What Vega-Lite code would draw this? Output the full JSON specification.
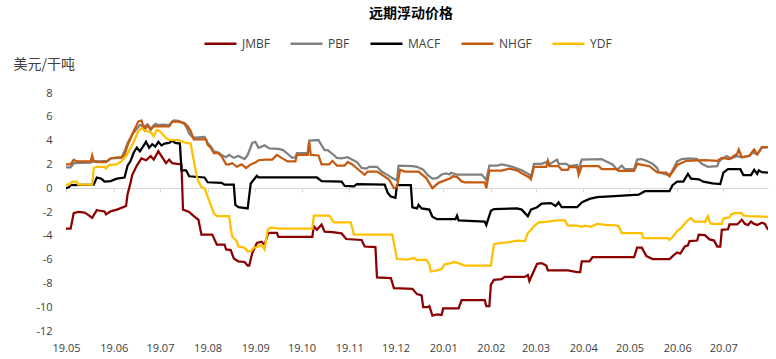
{
"$schema":"https://vega.github.io/schema/vega-lite/v6.json",
"width":702,"height":238,
"autosize":{"type":"none"},
"padding":{"left":66,"top":93,"right":8,"bottom":28},
"background":"white",
"title":{"text":"远期浮动价格","font":"Noto Sans CJK SC","fontSize":14,"fontWeight":"bold","color":"#000000","anchor":"middle","frame":"group","offset":0,"dy":-5,"dx":-6},
"config":{"view":{"stroke":null}},
"data":{"values":[
{"date":"2019-05-01","series":"JMBF","value":-3.4},{"date":"2019-05-04","series":"JMBF","value":-3.4},{"date":"2019-05-06","series":"JMBF","value":-2.1},{"date":"2019-05-09","series":"JMBF","value":-2.0},{"date":"2019-05-13","series":"JMBF","value":-2.05},{"date":"2019-05-15","series":"JMBF","value":-2.2},{"date":"2019-05-18","series":"JMBF","value":-2.5},{"date":"2019-05-21","series":"JMBF","value":-1.85},{"date":"2019-05-26","series":"JMBF","value":-1.95},{"date":"2019-05-27","series":"JMBF","value":-2.2},{"date":"2019-05-30","series":"JMBF","value":-1.95},{"date":"2019-06-03","series":"JMBF","value":-1.8},{"date":"2019-06-06","series":"JMBF","value":-1.65},{"date":"2019-06-09","series":"JMBF","value":-1.5},{"date":"2019-06-10","series":"JMBF","value":-0.5},{"date":"2019-06-12","series":"JMBF","value":0.5},{"date":"2019-06-13","series":"JMBF","value":1.1},{"date":"2019-06-16","series":"JMBF","value":1.9},{"date":"2019-06-19","series":"JMBF","value":2.5},{"date":"2019-06-22","series":"JMBF","value":2.35},{"date":"2019-06-25","series":"JMBF","value":2.7},{"date":"2019-06-27","series":"JMBF","value":2.4},{"date":"2019-06-30","series":"JMBF","value":3.1},{"date":"2019-07-02","series":"JMBF","value":2.7},{"date":"2019-07-05","series":"JMBF","value":2.1},{"date":"2019-07-07","series":"JMBF","value":2.4},{"date":"2019-07-09","series":"JMBF","value":2.1},{"date":"2019-07-15","series":"JMBF","value":2.0},{"date":"2019-07-16","series":"JMBF","value":-1.8},{"date":"2019-07-20","series":"JMBF","value":-2.0},{"date":"2019-07-23","series":"JMBF","value":-2.35},{"date":"2019-07-26","series":"JMBF","value":-2.65},{"date":"2019-07-28","series":"JMBF","value":-3.9},{"date":"2019-08-04","series":"JMBF","value":-3.9},{"date":"2019-08-07","series":"JMBF","value":-4.75},{"date":"2019-08-12","series":"JMBF","value":-4.75},{"date":"2019-08-13","series":"JMBF","value":-5.15},{"date":"2019-08-16","series":"JMBF","value":-5.2},{"date":"2019-08-18","series":"JMBF","value":-5.9},{"date":"2019-08-21","series":"JMBF","value":-6.15},{"date":"2019-08-25","series":"JMBF","value":-6.2},{"date":"2019-08-27","series":"JMBF","value":-6.5},{"date":"2019-08-28","series":"JMBF","value":-6.5},{"date":"2019-08-30","series":"JMBF","value":-5.45},{"date":"2019-09-02","series":"JMBF","value":-4.6},{"date":"2019-09-05","series":"JMBF","value":-4.5},{"date":"2019-09-07","series":"JMBF","value":-4.75},{"date":"2019-09-09","series":"JMBF","value":-3.9},{"date":"2019-09-10","series":"JMBF","value":-3.75},{"date":"2019-09-15","series":"JMBF","value":-3.75},{"date":"2019-09-16","series":"JMBF","value":-4.1},{"date":"2019-10-08","series":"JMBF","value":-4.1},{"date":"2019-10-09","series":"JMBF","value":-3.2},{"date":"2019-10-11","series":"JMBF","value":-3.5},{"date":"2019-10-14","series":"JMBF","value":-3.05},{"date":"2019-10-16","series":"JMBF","value":-3.65},{"date":"2019-10-21","series":"JMBF","value":-3.7},{"date":"2019-10-27","series":"JMBF","value":-3.8},{"date":"2019-10-30","series":"JMBF","value":-4.27},{"date":"2019-11-09","series":"JMBF","value":-4.35},{"date":"2019-11-11","series":"JMBF","value":-4.9},{"date":"2019-11-18","series":"JMBF","value":-4.95},{"date":"2019-11-19","series":"JMBF","value":-7.5},{"date":"2019-11-28","series":"JMBF","value":-7.55},{"date":"2019-11-30","series":"JMBF","value":-8.4},{"date":"2019-12-12","series":"JMBF","value":-8.45},{"date":"2019-12-15","series":"JMBF","value":-8.9},{"date":"2019-12-18","series":"JMBF","value":-9.0},{"date":"2019-12-19","series":"JMBF","value":-10.0},{"date":"2019-12-22","series":"JMBF","value":-10.0},{"date":"2019-12-23","series":"JMBF","value":-9.9},{"date":"2019-12-25","series":"JMBF","value":-10.7},{"date":"2019-12-28","series":"JMBF","value":-10.6},{"date":"2019-12-31","series":"JMBF","value":-10.65},{"date":"2020-01-01","series":"JMBF","value":-10.1},{"date":"2020-01-11","series":"JMBF","value":-10.1},{"date":"2020-01-13","series":"JMBF","value":-9.4},{"date":"2020-01-28","series":"JMBF","value":-9.4},{"date":"2020-01-29","series":"JMBF","value":-9.9},{"date":"2020-01-31","series":"JMBF","value":-9.9},{"date":"2020-02-01","series":"JMBF","value":-8.1},{"date":"2020-02-03","series":"JMBF","value":-7.7},{"date":"2020-02-08","series":"JMBF","value":-7.65},{"date":"2020-02-10","series":"JMBF","value":-7.45},{"date":"2020-02-23","series":"JMBF","value":-7.45},{"date":"2020-02-25","series":"JMBF","value":-7.3},{"date":"2020-02-26","series":"JMBF","value":-7.8},{"date":"2020-03-02","series":"JMBF","value":-6.35},{"date":"2020-03-05","series":"JMBF","value":-6.3},{"date":"2020-03-08","series":"JMBF","value":-6.5},{"date":"2020-03-09","series":"JMBF","value":-6.9},{"date":"2020-03-22","series":"JMBF","value":-6.9},{"date":"2020-03-28","series":"JMBF","value":-7.05},{"date":"2020-03-30","series":"JMBF","value":-7.05},{"date":"2020-03-31","series":"JMBF","value":-6.15},{"date":"2020-04-05","series":"JMBF","value":-6.15},{"date":"2020-04-07","series":"JMBF","value":-5.8},{"date":"2020-05-04","series":"JMBF","value":-5.8},{"date":"2020-05-06","series":"JMBF","value":-5.0},{"date":"2020-05-09","series":"JMBF","value":-5.0},{"date":"2020-05-12","series":"JMBF","value":-5.7},{"date":"2020-05-16","series":"JMBF","value":-5.95},{"date":"2020-05-27","series":"JMBF","value":-5.95},{"date":"2020-05-30","series":"JMBF","value":-5.6},{"date":"2020-06-01","series":"JMBF","value":-5.4},{"date":"2020-06-03","series":"JMBF","value":-5.5},{"date":"2020-06-06","series":"JMBF","value":-4.9},{"date":"2020-06-08","series":"JMBF","value":-4.8},{"date":"2020-06-09","series":"JMBF","value":-4.45},{"date":"2020-06-14","series":"JMBF","value":-4.4},{"date":"2020-06-15","series":"JMBF","value":-3.9},{"date":"2020-06-19","series":"JMBF","value":-3.95},{"date":"2020-06-22","series":"JMBF","value":-4.3},{"date":"2020-06-25","series":"JMBF","value":-4.4},{"date":"2020-06-27","series":"JMBF","value":-4.9},{"date":"2020-06-29","series":"JMBF","value":-4.9},{"date":"2020-06-30","series":"JMBF","value":-3.5},{"date":"2020-07-04","series":"JMBF","value":-3.45},{"date":"2020-07-05","series":"JMBF","value":-3.05},{"date":"2020-07-10","series":"JMBF","value":-3.05},{"date":"2020-07-13","series":"JMBF","value":-2.65},{"date":"2020-07-15","series":"JMBF","value":-3.0},{"date":"2020-07-17","series":"JMBF","value":-3.1},{"date":"2020-07-19","series":"JMBF","value":-2.8},{"date":"2020-07-21","series":"JMBF","value":-3.0},{"date":"2020-07-23","series":"JMBF","value":-3.1},{"date":"2020-07-26","series":"JMBF","value":-2.9},{"date":"2020-07-28","series":"JMBF","value":-3.0},{"date":"2020-07-30","series":"JMBF","value":-3.5},
{"date":"2019-05-01","series":"PBF","value":1.75},{"date":"2019-05-04","series":"PBF","value":1.75},{"date":"2019-05-06","series":"PBF","value":2.1},{"date":"2019-05-17","series":"PBF","value":2.15},{"date":"2019-05-19","series":"PBF","value":2.3},{"date":"2019-05-22","series":"PBF","value":2.25},{"date":"2019-05-28","series":"PBF","value":2.3},{"date":"2019-05-30","series":"PBF","value":2.5},{"date":"2019-06-06","series":"PBF","value":2.55},{"date":"2019-06-08","series":"PBF","value":3.1},{"date":"2019-06-10","series":"PBF","value":3.8},{"date":"2019-06-13","series":"PBF","value":4.5},{"date":"2019-06-16","series":"PBF","value":5.0},{"date":"2019-06-18","series":"PBF","value":5.3},{"date":"2019-06-21","series":"PBF","value":5.2},{"date":"2019-06-23","series":"PBF","value":5.35},{"date":"2019-06-25","series":"PBF","value":5.0},{"date":"2019-06-28","series":"PBF","value":5.4},{"date":"2019-06-30","series":"PBF","value":5.3},{"date":"2019-07-03","series":"PBF","value":5.35},{"date":"2019-07-07","series":"PBF","value":5.3},{"date":"2019-07-10","series":"PBF","value":5.7},{"date":"2019-07-13","series":"PBF","value":5.65},{"date":"2019-07-16","series":"PBF","value":5.5},{"date":"2019-07-18","series":"PBF","value":5.2},{"date":"2019-07-20","series":"PBF","value":4.6},{"date":"2019-07-22","series":"PBF","value":4.3},{"date":"2019-07-24","series":"PBF","value":4.25},{"date":"2019-07-30","series":"PBF","value":4.3},{"date":"2019-08-01","series":"PBF","value":3.8},{"date":"2019-08-03","series":"PBF","value":3.5},{"date":"2019-08-05","series":"PBF","value":3.1},{"date":"2019-08-08","series":"PBF","value":3.0},{"date":"2019-08-10","series":"PBF","value":2.8},{"date":"2019-08-13","series":"PBF","value":2.6},{"date":"2019-08-15","series":"PBF","value":2.8},{"date":"2019-08-18","series":"PBF","value":2.55},{"date":"2019-08-21","series":"PBF","value":2.7},{"date":"2019-08-25","series":"PBF","value":2.45},{"date":"2019-08-27","series":"PBF","value":2.8},{"date":"2019-08-30","series":"PBF","value":3.8},{"date":"2019-09-01","series":"PBF","value":3.9},{"date":"2019-09-03","series":"PBF","value":3.4},{"date":"2019-09-07","series":"PBF","value":3.6},{"date":"2019-09-10","series":"PBF","value":3.35},{"date":"2019-09-16","series":"PBF","value":3.3},{"date":"2019-09-19","series":"PBF","value":3.2},{"date":"2019-09-21","series":"PBF","value":3.0},{"date":"2019-09-25","series":"PBF","value":2.55},{"date":"2019-09-27","series":"PBF","value":2.6},{"date":"2019-09-28","series":"PBF","value":2.95},{"date":"2019-10-05","series":"PBF","value":2.95},{"date":"2019-10-06","series":"PBF","value":4.0},{"date":"2019-10-12","series":"PBF","value":4.05},{"date":"2019-10-14","series":"PBF","value":3.6},{"date":"2019-10-16","series":"PBF","value":3.2},{"date":"2019-10-18","series":"PBF","value":3.2},{"date":"2019-10-20","series":"PBF","value":3.0},{"date":"2019-10-24","series":"PBF","value":2.55},{"date":"2019-10-27","series":"PBF","value":2.5},{"date":"2019-10-31","series":"PBF","value":2.6},{"date":"2019-11-03","series":"PBF","value":2.4},{"date":"2019-11-06","series":"PBF","value":2.2},{"date":"2019-11-09","series":"PBF","value":1.7},{"date":"2019-11-12","series":"PBF","value":1.65},{"date":"2019-11-14","series":"PBF","value":1.8},{"date":"2019-11-19","series":"PBF","value":1.8},{"date":"2019-11-22","series":"PBF","value":1.4},{"date":"2019-11-26","series":"PBF","value":1.1},{"date":"2019-11-29","series":"PBF","value":0.85},{"date":"2019-12-02","series":"PBF","value":0.65},{"date":"2019-12-03","series":"PBF","value":1.9},{"date":"2019-12-12","series":"PBF","value":1.85},{"date":"2019-12-15","series":"PBF","value":1.8},{"date":"2019-12-19","series":"PBF","value":1.55},{"date":"2019-12-22","series":"PBF","value":1.1},{"date":"2019-12-25","series":"PBF","value":0.8},{"date":"2019-12-28","series":"PBF","value":0.85},{"date":"2019-12-31","series":"PBF","value":1.15},{"date":"2020-01-03","series":"PBF","value":1.25},{"date":"2020-01-05","series":"PBF","value":1.15},{"date":"2020-01-06","series":"PBF","value":1.3},{"date":"2020-01-10","series":"PBF","value":1.15},{"date":"2020-01-26","series":"PBF","value":1.15},{"date":"2020-01-29","series":"PBF","value":0.7},{"date":"2020-01-31","series":"PBF","value":1.9},{"date":"2020-02-05","series":"PBF","value":1.9},{"date":"2020-02-08","series":"PBF","value":2.0},{"date":"2020-02-12","series":"PBF","value":1.9},{"date":"2020-02-16","series":"PBF","value":1.75},{"date":"2020-02-21","series":"PBF","value":1.5},{"date":"2020-02-26","series":"PBF","value":1.15},{"date":"2020-02-27","series":"PBF","value":0.9},{"date":"2020-02-29","series":"PBF","value":2.05},{"date":"2020-03-05","series":"PBF","value":2.05},{"date":"2020-03-09","series":"PBF","value":2.25},{"date":"2020-03-10","series":"PBF","value":2.0},{"date":"2020-03-13","series":"PBF","value":2.25},{"date":"2020-03-15","series":"PBF","value":2.4},{"date":"2020-03-16","series":"PBF","value":2.05},{"date":"2020-03-21","series":"PBF","value":2.05},{"date":"2020-03-23","series":"PBF","value":1.85},{"date":"2020-03-28","series":"PBF","value":1.95},{"date":"2020-03-29","series":"PBF","value":1.55},{"date":"2020-03-31","series":"PBF","value":2.4},{"date":"2020-04-13","series":"PBF","value":2.45},{"date":"2020-04-15","series":"PBF","value":2.3},{"date":"2020-04-20","series":"PBF","value":2.0},{"date":"2020-04-23","series":"PBF","value":1.55},{"date":"2020-04-26","series":"PBF","value":1.9},{"date":"2020-04-28","series":"PBF","value":1.6},{"date":"2020-05-04","series":"PBF","value":1.6},{"date":"2020-05-06","series":"PBF","value":2.4},{"date":"2020-05-09","series":"PBF","value":2.45},{"date":"2020-05-12","series":"PBF","value":2.3},{"date":"2020-05-16","series":"PBF","value":2.05},{"date":"2020-05-19","series":"PBF","value":1.7},{"date":"2020-05-20","series":"PBF","value":1.35},{"date":"2020-05-26","series":"PBF","value":1.1},{"date":"2020-05-28","series":"PBF","value":1.25},{"date":"2020-06-01","series":"PBF","value":2.25},{"date":"2020-06-04","series":"PBF","value":2.45},{"date":"2020-06-09","series":"PBF","value":2.5},{"date":"2020-06-14","series":"PBF","value":2.45},{"date":"2020-06-17","series":"PBF","value":2.05},{"date":"2020-06-21","series":"PBF","value":1.8},{"date":"2020-06-27","series":"PBF","value":1.85},{"date":"2020-06-28","series":"PBF","value":2.2},{"date":"2020-06-30","series":"PBF","value":2.45},{"date":"2020-07-03","series":"PBF","value":2.7},{"date":"2020-07-06","series":"PBF","value":2.5},{"date":"2020-07-10","series":"PBF","value":2.7},{"date":"2020-07-13","series":"PBF","value":2.6},{"date":"2020-07-18","series":"PBF","value":2.7},{"date":"2020-07-20","series":"PBF","value":3.0},{"date":"2020-07-23","series":"PBF","value":2.85},{"date":"2020-07-26","series":"PBF","value":3.4},{"date":"2020-07-30","series":"PBF","value":3.45},
{"date":"2019-05-01","series":"MACF","value":0.0},{"date":"2019-05-03","series":"MACF","value":0.1},{"date":"2019-05-04","series":"MACF","value":0.25},{"date":"2019-05-19","series":"MACF","value":0.3},{"date":"2019-05-21","series":"MACF","value":0.9},{"date":"2019-05-24","series":"MACF","value":0.8},{"date":"2019-05-26","series":"MACF","value":0.55},{"date":"2019-05-30","series":"MACF","value":0.6},{"date":"2019-06-03","series":"MACF","value":0.8},{"date":"2019-06-08","series":"MACF","value":0.9},{"date":"2019-06-10","series":"MACF","value":1.9},{"date":"2019-06-12","series":"MACF","value":2.3},{"date":"2019-06-14","series":"MACF","value":3.0},{"date":"2019-06-16","series":"MACF","value":3.4},{"date":"2019-06-18","series":"MACF","value":3.1},{"date":"2019-06-20","series":"MACF","value":3.5},{"date":"2019-06-22","series":"MACF","value":3.9},{"date":"2019-06-24","series":"MACF","value":3.4},{"date":"2019-06-26","series":"MACF","value":3.7},{"date":"2019-06-28","series":"MACF","value":3.5},{"date":"2019-06-30","series":"MACF","value":3.9},{"date":"2019-07-02","series":"MACF","value":3.6},{"date":"2019-07-04","series":"MACF","value":3.75},{"date":"2019-07-07","series":"MACF","value":3.8},{"date":"2019-07-09","series":"MACF","value":4.0},{"date":"2019-07-11","series":"MACF","value":3.8},{"date":"2019-07-14","series":"MACF","value":3.75},{"date":"2019-07-15","series":"MACF","value":1.5},{"date":"2019-07-18","series":"MACF","value":1.5},{"date":"2019-07-20","series":"MACF","value":1.0},{"date":"2019-07-30","series":"MACF","value":0.9},{"date":"2019-08-01","series":"MACF","value":0.5},{"date":"2019-08-10","series":"MACF","value":0.45},{"date":"2019-08-12","series":"MACF","value":0.3},{"date":"2019-08-18","series":"MACF","value":0.3},{"date":"2019-08-19","series":"MACF","value":-1.4},{"date":"2019-08-21","series":"MACF","value":-1.6},{"date":"2019-08-27","series":"MACF","value":-1.7},{"date":"2019-08-29","series":"MACF","value":0.4},{"date":"2019-09-02","series":"MACF","value":1.05},{"date":"2019-09-03","series":"MACF","value":0.9},{"date":"2019-09-29","series":"MACF","value":0.9},{"date":"2019-10-11","series":"MACF","value":0.9},{"date":"2019-10-14","series":"MACF","value":0.6},{"date":"2019-10-27","series":"MACF","value":0.55},{"date":"2019-10-29","series":"MACF","value":0.2},{"date":"2019-11-04","series":"MACF","value":0.15},{"date":"2019-11-06","series":"MACF","value":0.35},{"date":"2019-11-24","series":"MACF","value":0.3},{"date":"2019-11-26","series":"MACF","value":-0.4},{"date":"2019-11-28","series":"MACF","value":-0.7},{"date":"2019-12-01","series":"MACF","value":-0.8},{"date":"2019-12-02","series":"MACF","value":0.25},{"date":"2019-12-11","series":"MACF","value":0.25},{"date":"2019-12-12","series":"MACF","value":-1.6},{"date":"2019-12-15","series":"MACF","value":-1.7},{"date":"2019-12-16","series":"MACF","value":-1.4},{"date":"2019-12-18","series":"MACF","value":-1.7},{"date":"2019-12-23","series":"MACF","value":-1.8},{"date":"2019-12-25","series":"MACF","value":-2.4},{"date":"2019-12-28","series":"MACF","value":-2.6},{"date":"2020-01-09","series":"MACF","value":-2.6},{"date":"2020-01-10","series":"MACF","value":-2.3},{"date":"2020-01-11","series":"MACF","value":-2.7},{"date":"2020-01-28","series":"MACF","value":-2.8},{"date":"2020-01-29","series":"MACF","value":-3.1},{"date":"2020-02-01","series":"MACF","value":-1.9},{"date":"2020-02-03","series":"MACF","value":-1.75},{"date":"2020-02-18","series":"MACF","value":-1.7},{"date":"2020-02-21","series":"MACF","value":-1.8},{"date":"2020-02-25","series":"MACF","value":-2.35},{"date":"2020-02-27","series":"MACF","value":-1.8},{"date":"2020-03-02","series":"MACF","value":-1.6},{"date":"2020-03-05","series":"MACF","value":-1.3},{"date":"2020-03-11","series":"MACF","value":-1.25},{"date":"2020-03-14","series":"MACF","value":-1.5},{"date":"2020-03-16","series":"MACF","value":-1.2},{"date":"2020-03-18","series":"MACF","value":-1.6},{"date":"2020-03-28","series":"MACF","value":-1.6},{"date":"2020-03-31","series":"MACF","value":-1.2},{"date":"2020-04-05","series":"MACF","value":-0.9},{"date":"2020-04-10","series":"MACF","value":-0.75},{"date":"2020-04-24","series":"MACF","value":-0.65},{"date":"2020-05-07","series":"MACF","value":-0.55},{"date":"2020-05-11","series":"MACF","value":-0.25},{"date":"2020-05-27","series":"MACF","value":-0.25},{"date":"2020-05-29","series":"MACF","value":0.25},{"date":"2020-06-01","series":"MACF","value":0.55},{"date":"2020-06-05","series":"MACF","value":0.55},{"date":"2020-06-08","series":"MACF","value":1.2},{"date":"2020-06-10","series":"MACF","value":0.8},{"date":"2020-06-15","series":"MACF","value":0.75},{"date":"2020-06-18","series":"MACF","value":0.55},{"date":"2020-06-24","series":"MACF","value":0.4},{"date":"2020-06-29","series":"MACF","value":0.35},{"date":"2020-07-01","series":"MACF","value":1.3},{"date":"2020-07-04","series":"MACF","value":1.6},{"date":"2020-07-12","series":"MACF","value":1.6},{"date":"2020-07-14","series":"MACF","value":1.1},{"date":"2020-07-19","series":"MACF","value":1.1},{"date":"2020-07-21","series":"MACF","value":1.55},{"date":"2020-07-23","series":"MACF","value":1.2},{"date":"2020-07-24","series":"MACF","value":1.5},{"date":"2020-07-26","series":"MACF","value":1.35},{"date":"2020-07-30","series":"MACF","value":1.3},
{"date":"2019-05-01","series":"NHGF","value":2.0},{"date":"2019-05-04","series":"NHGF","value":2.0},{"date":"2019-05-06","series":"NHGF","value":2.4},{"date":"2019-05-08","series":"NHGF","value":2.25},{"date":"2019-05-17","series":"NHGF","value":2.25},{"date":"2019-05-18","series":"NHGF","value":2.75},{"date":"2019-05-19","series":"NHGF","value":2.25},{"date":"2019-05-21","series":"NHGF","value":2.2},{"date":"2019-05-27","series":"NHGF","value":2.2},{"date":"2019-05-30","series":"NHGF","value":2.5},{"date":"2019-06-03","series":"NHGF","value":2.6},{"date":"2019-06-06","series":"NHGF","value":2.6},{"date":"2019-06-08","series":"NHGF","value":2.8},{"date":"2019-06-10","series":"NHGF","value":3.6},{"date":"2019-06-12","series":"NHGF","value":4.2},{"date":"2019-06-14","series":"NHGF","value":4.8},{"date":"2019-06-17","series":"NHGF","value":5.6},{"date":"2019-06-19","series":"NHGF","value":5.7},{"date":"2019-06-21","series":"NHGF","value":4.9},{"date":"2019-06-23","series":"NHGF","value":5.3},{"date":"2019-06-25","series":"NHGF","value":4.9},{"date":"2019-06-27","series":"NHGF","value":5.2},{"date":"2019-06-30","series":"NHGF","value":5.2},{"date":"2019-07-07","series":"NHGF","value":5.2},{"date":"2019-07-09","series":"NHGF","value":5.6},{"date":"2019-07-13","series":"NHGF","value":5.6},{"date":"2019-07-17","series":"NHGF","value":5.45},{"date":"2019-07-19","series":"NHGF","value":5.2},{"date":"2019-07-21","series":"NHGF","value":4.8},{"date":"2019-07-23","series":"NHGF","value":4.1},{"date":"2019-07-31","series":"NHGF","value":4.1},{"date":"2019-08-01","series":"NHGF","value":3.65},{"date":"2019-08-03","series":"NHGF","value":3.4},{"date":"2019-08-05","series":"NHGF","value":2.95},{"date":"2019-08-08","series":"NHGF","value":2.95},{"date":"2019-08-10","series":"NHGF","value":2.7},{"date":"2019-08-13","series":"NHGF","value":2.0},{"date":"2019-08-15","series":"NHGF","value":2.0},{"date":"2019-08-17","series":"NHGF","value":2.1},{"date":"2019-08-20","series":"NHGF","value":1.8},{"date":"2019-08-23","series":"NHGF","value":2.0},{"date":"2019-08-26","series":"NHGF","value":1.7},{"date":"2019-08-29","series":"NHGF","value":2.0},{"date":"2019-09-01","series":"NHGF","value":2.15},{"date":"2019-09-03","series":"NHGF","value":2.35},{"date":"2019-09-08","series":"NHGF","value":2.4},{"date":"2019-09-12","series":"NHGF","value":2.4},{"date":"2019-09-15","series":"NHGF","value":2.8},{"date":"2019-09-18","series":"NHGF","value":2.55},{"date":"2019-09-22","series":"NHGF","value":2.25},{"date":"2019-09-27","series":"NHGF","value":2.25},{"date":"2019-09-28","series":"NHGF","value":2.8},{"date":"2019-10-05","series":"NHGF","value":2.8},{"date":"2019-10-06","series":"NHGF","value":3.9},{"date":"2019-10-07","series":"NHGF","value":2.8},{"date":"2019-10-12","series":"NHGF","value":2.75},{"date":"2019-10-14","series":"NHGF","value":2.0},{"date":"2019-10-19","series":"NHGF","value":2.0},{"date":"2019-10-21","series":"NHGF","value":2.3},{"date":"2019-10-24","series":"NHGF","value":1.9},{"date":"2019-10-29","series":"NHGF","value":1.9},{"date":"2019-10-31","series":"NHGF","value":2.2},{"date":"2019-11-03","series":"NHGF","value":2.0},{"date":"2019-11-07","series":"NHGF","value":1.55},{"date":"2019-11-11","series":"NHGF","value":1.13},{"date":"2019-11-13","series":"NHGF","value":1.4},{"date":"2019-11-19","series":"NHGF","value":1.4},{"date":"2019-11-22","series":"NHGF","value":1.15},{"date":"2019-11-27","series":"NHGF","value":0.7},{"date":"2019-11-30","series":"NHGF","value":0.0},{"date":"2019-12-02","series":"NHGF","value":0.1},{"date":"2019-12-04","series":"NHGF","value":1.55},{"date":"2019-12-07","series":"NHGF","value":1.4},{"date":"2019-12-16","series":"NHGF","value":1.4},{"date":"2019-12-21","series":"NHGF","value":0.85},{"date":"2019-12-25","series":"NHGF","value":0.0},{"date":"2019-12-29","series":"NHGF","value":0.45},{"date":"2020-01-03","series":"NHGF","value":0.7},{"date":"2020-01-06","series":"NHGF","value":0.85},{"date":"2020-01-07","series":"NHGF","value":1.0},{"date":"2020-01-10","series":"NHGF","value":0.95},{"date":"2020-01-13","series":"NHGF","value":0.57},{"date":"2020-01-15","series":"NHGF","value":0.5},{"date":"2020-01-28","series":"NHGF","value":0.5},{"date":"2020-01-29","series":"NHGF","value":0.0},{"date":"2020-01-31","series":"NHGF","value":1.47},{"date":"2020-02-08","series":"NHGF","value":1.47},{"date":"2020-02-13","series":"NHGF","value":1.65},{"date":"2020-02-18","series":"NHGF","value":1.5},{"date":"2020-02-21","series":"NHGF","value":1.25},{"date":"2020-02-26","series":"NHGF","value":0.9},{"date":"2020-02-27","series":"NHGF","value":0.75},{"date":"2020-02-29","series":"NHGF","value":1.8},{"date":"2020-03-08","series":"NHGF","value":1.8},{"date":"2020-03-09","series":"NHGF","value":2.3},{"date":"2020-03-10","series":"NHGF","value":1.85},{"date":"2020-03-16","series":"NHGF","value":1.85},{"date":"2020-03-18","series":"NHGF","value":1.55},{"date":"2020-03-22","series":"NHGF","value":1.55},{"date":"2020-03-23","series":"NHGF","value":1.8},{"date":"2020-03-28","series":"NHGF","value":1.75},{"date":"2020-03-29","series":"NHGF","value":1.13},{"date":"2020-03-31","series":"NHGF","value":1.85},{"date":"2020-04-11","series":"NHGF","value":1.85},{"date":"2020-04-13","series":"NHGF","value":1.6},{"date":"2020-04-23","series":"NHGF","value":1.6},{"date":"2020-04-24","series":"NHGF","value":1.45},{"date":"2020-05-04","series":"NHGF","value":1.45},{"date":"2020-05-06","series":"NHGF","value":2.05},{"date":"2020-05-14","series":"NHGF","value":1.85},{"date":"2020-05-19","series":"NHGF","value":1.33},{"date":"2020-05-25","series":"NHGF","value":1.3},{"date":"2020-05-27","series":"NHGF","value":1.0},{"date":"2020-06-01","series":"NHGF","value":1.95},{"date":"2020-06-07","series":"NHGF","value":2.3},{"date":"2020-06-19","series":"NHGF","value":2.35},{"date":"2020-06-27","series":"NHGF","value":2.3},{"date":"2020-06-30","series":"NHGF","value":2.55},{"date":"2020-07-05","series":"NHGF","value":2.45},{"date":"2020-07-10","series":"NHGF","value":2.9},{"date":"2020-07-11","series":"NHGF","value":3.25},{"date":"2020-07-13","series":"NHGF","value":2.6},{"date":"2020-07-18","series":"NHGF","value":2.75},{"date":"2020-07-21","series":"NHGF","value":3.25},{"date":"2020-07-23","series":"NHGF","value":2.85},{"date":"2020-07-26","series":"NHGF","value":3.45},{"date":"2020-07-30","series":"NHGF","value":3.45},
{"date":"2019-05-01","series":"YDF","value":0.3},{"date":"2019-05-03","series":"YDF","value":0.3},{"date":"2019-05-05","series":"YDF","value":0.55},{"date":"2019-05-08","series":"YDF","value":0.55},{"date":"2019-05-09","series":"YDF","value":0.3},{"date":"2019-05-18","series":"YDF","value":0.3},{"date":"2019-05-19","series":"YDF","value":1.7},{"date":"2019-05-21","series":"YDF","value":1.8},{"date":"2019-05-26","series":"YDF","value":1.8},{"date":"2019-05-27","series":"YDF","value":1.65},{"date":"2019-05-29","series":"YDF","value":1.97},{"date":"2019-06-03","series":"YDF","value":2.0},{"date":"2019-06-04","series":"YDF","value":2.1},{"date":"2019-06-06","series":"YDF","value":2.25},{"date":"2019-06-09","series":"YDF","value":2.7},{"date":"2019-06-12","series":"YDF","value":3.4},{"date":"2019-06-14","series":"YDF","value":3.9},{"date":"2019-06-17","series":"YDF","value":4.8},{"date":"2019-06-19","series":"YDF","value":5.05},{"date":"2019-06-22","series":"YDF","value":4.8},{"date":"2019-06-25","series":"YDF","value":4.7},{"date":"2019-06-27","series":"YDF","value":4.35},{"date":"2019-06-29","series":"YDF","value":4.9},{"date":"2019-07-01","series":"YDF","value":4.8},{"date":"2019-07-03","series":"YDF","value":4.5},{"date":"2019-07-05","series":"YDF","value":4.2},{"date":"2019-07-07","series":"YDF","value":4.07},{"date":"2019-07-13","series":"YDF","value":4.05},{"date":"2019-07-18","series":"YDF","value":3.8},{"date":"2019-07-21","series":"YDF","value":3.75},{"date":"2019-07-23","series":"YDF","value":2.3},{"date":"2019-07-25","series":"YDF","value":1.0},{"date":"2019-07-26","series":"YDF","value":0.57},{"date":"2019-07-28","series":"YDF","value":0.1},{"date":"2019-07-30","series":"YDF","value":0.0},{"date":"2019-08-01","series":"YDF","value":-0.7},{"date":"2019-08-03","series":"YDF","value":-1.4},{"date":"2019-08-05","series":"YDF","value":-2.1},{"date":"2019-08-07","series":"YDF","value":-2.35},{"date":"2019-08-15","series":"YDF","value":-2.35},{"date":"2019-08-16","series":"YDF","value":-3.35},{"date":"2019-08-17","series":"YDF","value":-4.05},{"date":"2019-08-20","series":"YDF","value":-4.47},{"date":"2019-08-21","series":"YDF","value":-4.9},{"date":"2019-08-25","series":"YDF","value":-5.0},{"date":"2019-08-27","series":"YDF","value":-5.3},{"date":"2019-08-29","series":"YDF","value":-5.3},{"date":"2019-08-31","series":"YDF","value":-5.0},{"date":"2019-09-03","series":"YDF","value":-4.9},{"date":"2019-09-05","series":"YDF","value":-4.75},{"date":"2019-09-07","series":"YDF","value":-5.15},{"date":"2019-09-09","series":"YDF","value":-3.5},{"date":"2019-09-11","series":"YDF","value":-3.3},{"date":"2019-09-16","series":"YDF","value":-3.4},{"date":"2019-10-08","series":"YDF","value":-3.4},{"date":"2019-10-09","series":"YDF","value":-2.3},{"date":"2019-10-19","series":"YDF","value":-2.3},{"date":"2019-10-22","series":"YDF","value":-2.87},{"date":"2019-11-02","series":"YDF","value":-2.87},{"date":"2019-11-04","series":"YDF","value":-3.9},{"date":"2019-11-29","series":"YDF","value":-3.9},{"date":"2019-11-30","series":"YDF","value":-4.6},{"date":"2019-12-02","series":"YDF","value":-5.95},{"date":"2019-12-09","series":"YDF","value":-6.0},{"date":"2019-12-13","series":"YDF","value":-5.85},{"date":"2019-12-15","series":"YDF","value":-6.05},{"date":"2019-12-21","series":"YDF","value":-6.0},{"date":"2019-12-23","series":"YDF","value":-6.4},{"date":"2019-12-24","series":"YDF","value":-7.0},{"date":"2019-12-28","series":"YDF","value":-6.9},{"date":"2019-12-31","series":"YDF","value":-6.8},{"date":"2020-01-02","series":"YDF","value":-6.4},{"date":"2020-01-06","series":"YDF","value":-6.3},{"date":"2020-01-08","series":"YDF","value":-6.2},{"date":"2020-01-11","series":"YDF","value":-6.3},{"date":"2020-01-15","series":"YDF","value":-6.5},{"date":"2020-02-01","series":"YDF","value":-6.5},{"date":"2020-02-03","series":"YDF","value":-4.7},{"date":"2020-02-08","series":"YDF","value":-4.6},{"date":"2020-02-12","series":"YDF","value":-4.55},{"date":"2020-02-18","series":"YDF","value":-4.4},{"date":"2020-02-23","series":"YDF","value":-4.45},{"date":"2020-02-25","series":"YDF","value":-3.77},{"date":"2020-02-27","series":"YDF","value":-3.5},{"date":"2020-02-29","series":"YDF","value":-3.2},{"date":"2020-03-03","series":"YDF","value":-2.87},{"date":"2020-03-09","series":"YDF","value":-2.8},{"date":"2020-03-15","series":"YDF","value":-2.7},{"date":"2020-03-20","series":"YDF","value":-2.7},{"date":"2020-03-22","series":"YDF","value":-3.15},{"date":"2020-03-28","series":"YDF","value":-3.15},{"date":"2020-03-31","series":"YDF","value":-3.25},{"date":"2020-04-02","series":"YDF","value":-3.15},{"date":"2020-04-06","series":"YDF","value":-3.25},{"date":"2020-04-10","series":"YDF","value":-3.0},{"date":"2020-04-17","series":"YDF","value":-3.1},{"date":"2020-04-21","series":"YDF","value":-3.1},{"date":"2020-04-24","series":"YDF","value":-3.2},{"date":"2020-04-26","series":"YDF","value":-3.77},{"date":"2020-05-09","series":"YDF","value":-3.77},{"date":"2020-05-10","series":"YDF","value":-4.2},{"date":"2020-05-26","series":"YDF","value":-4.2},{"date":"2020-05-27","series":"YDF","value":-4.35},{"date":"2020-05-29","series":"YDF","value":-4.1},{"date":"2020-06-01","series":"YDF","value":-3.6},{"date":"2020-06-04","series":"YDF","value":-3.3},{"date":"2020-06-07","series":"YDF","value":-2.8},{"date":"2020-06-10","series":"YDF","value":-2.5},{"date":"2020-06-12","series":"YDF","value":-2.8},{"date":"2020-06-17","series":"YDF","value":-2.8},{"date":"2020-06-19","series":"YDF","value":-2.85},{"date":"2020-06-21","series":"YDF","value":-2.35},{"date":"2020-06-22","series":"YDF","value":-2.8},{"date":"2020-06-23","series":"YDF","value":-3.0},{"date":"2020-06-30","series":"YDF","value":-3.0},{"date":"2020-07-01","series":"YDF","value":-2.55},{"date":"2020-07-05","series":"YDF","value":-2.45},{"date":"2020-07-06","series":"YDF","value":-2.2},{"date":"2020-07-08","series":"YDF","value":-2.1},{"date":"2020-07-13","series":"YDF","value":-2.1},{"date":"2020-07-14","series":"YDF","value":-2.3},{"date":"2020-07-17","series":"YDF","value":-2.35},{"date":"2020-07-30","series":"YDF","value":-2.4}
]},
"mark":{"type":"line","strokeWidth":2.25,"interpolate":"linear","clip":true},
"encoding":{
"x":{"field":"date","type":"temporal",
"scale":{"type":"utc","domain":[{"year":2019,"month":5,"date":1,"utc":true},{"year":2020,"month":7,"date":30,"utc":true}]},
"axis":{"title":null,"orient":"bottom","offset":-143,"grid":false,"domain":true,"domainColor":"#d9d9d9","domainWidth":1,"ticks":true,"tickColor":"#d9d9d9","tickSize":4,"tickCount":{"interval":"month","step":1},"labelExpr":"utcFormat(datum.value, '%y.%m')","labelPadding":150,"labelFont":"Open Sans","labelFontSize":11,"labelColor":"#404040","labelOverlap":false,"labelFlush":false}},
"y":{"field":"value","type":"quantitative",
"scale":{"domain":[-12,8],"nice":false,"zero":false},
"axis":{"title":"美元/干吨","titleAngle":0,"titleX":-53,"titleY":-29,"titleAlign":"left","titleBaseline":"middle","titleFont":"Noto Sans CJK SC","titleFontSize":14,"titleFontWeight":"normal","titleColor":"#404040","values":[-12,-10,-8,-6,-4,-2,0,2,4,6,8],"labelExpr":"toString(datum.value)","grid":false,"domain":false,"ticks":false,"labelPadding":14,"labelFont":"Open Sans","labelFontSize":11,"labelColor":"#404040"}},
"color":{"field":"series","type":"nominal",
"scale":{"domain":["JMBF","PBF","MACF","NHGF","YDF"],"range":["#8B0000","#808080","#000000","#C55A11","#FFC000"]},
"legend":{"orient":"none","legendX":137,"legendY":-67,"direction":"horizontal","columns":5,"title":null,"symbolType":"stroke","symbolSize":1024,"symbolStrokeWidth":2.5,"labelFont":"Open Sans","labelFontSize":12,"labelColor":"#404040","labelOffset":4,"columnPadding":15}}
}
}
